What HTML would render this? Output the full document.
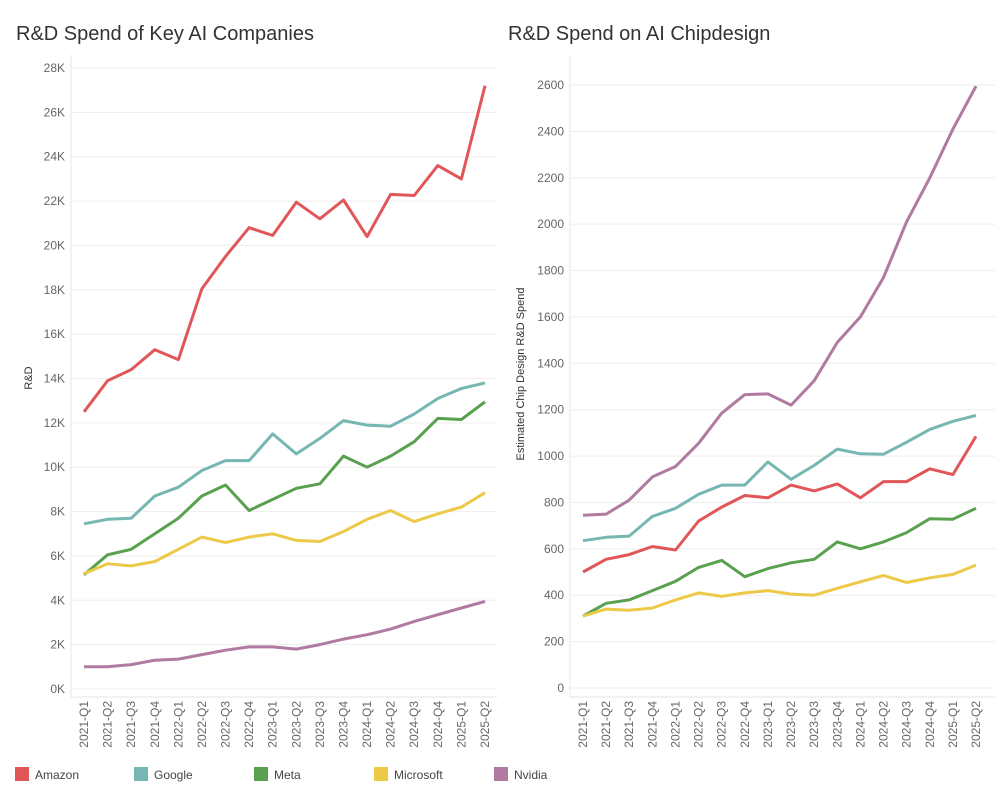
<!DOCTYPE html>
<html><head><meta charset="utf-8"><style>
body{margin:0;background:#fff;font-family:"Liberation Sans",sans-serif;}
svg text{font-family:"Liberation Sans",sans-serif;}
</style></head><body>
<svg id="c" width="1000" height="800">
<text x="16" y="40" font-size="20" fill="#333">R&amp;D Spend of Key AI Companies</text>
<text x="508" y="40" font-size="20" fill="#333">R&amp;D Spend on AI Chipdesign</text>
<text transform="translate(32,378) rotate(-90)" text-anchor="middle" font-size="11" fill="#333">R&amp;D</text>
<text transform="translate(524,374) rotate(-90)" text-anchor="middle" font-size="11" fill="#333">Estimated Chip Design R&amp;D Spend</text>
</svg>
<script>
const quarters=["2021-Q1","2021-Q2","2021-Q3","2021-Q4","2022-Q1","2022-Q2","2022-Q3","2022-Q4","2023-Q1","2023-Q2","2023-Q3","2023-Q4","2024-Q1","2024-Q2","2024-Q3","2024-Q4","2025-Q1","2025-Q2"];
const companies=["Amazon","Google","Meta","Microsoft","Nvidia"];
const colors=["#e15759","#76b7b2","#59a14f","#edc948","#b07aa1"];
const rdAmazon=[12.5,13.9,14.4,15.3,14.85,18.05,19.5,20.8,20.45,21.95,21.2,22.05,20.4,22.3,22.25,23.6,23.0,27.2];
const rdGoogle=[7.45,7.65,7.7,8.7,9.1,9.85,10.3,10.3,11.5,10.6,11.3,12.1,11.9,11.85,12.4,13.1,13.55,13.8];
const rdMeta=[5.15,6.05,6.3,7.0,7.7,8.7,9.2,8.05,8.55,9.05,9.25,10.5,10.0,10.5,11.15,12.2,12.15,12.95];
const rdMicrosoft=[5.2,5.65,5.55,5.75,6.3,6.85,6.6,6.85,7.0,6.7,6.65,7.1,7.65,8.05,7.55,7.9,8.2,8.85];
const rdNvidia=[1.0,1.0,1.1,1.3,1.35,1.55,1.75,1.9,1.9,1.8,2.0,2.25,2.45,2.7,3.05,3.35,3.65,3.95];
const chipAmazon=[500,555,575,610,595,720,780,830,820,875,850,880,820,890,890,945,920,1085];
const chipGoogle=[635,650,655,740,775,835,875,875,975,900,960,1030,1010,1008,1060,1115,1150,1175];
const chipMeta=[310,365,380,420,460,520,550,480,515,540,555,630,600,630,670,730,728,775];
const chipMicrosoft=[310,340,335,345,380,410,395,410,420,405,400,430,458,485,455,475,490,530];
const chipNvidia=[745,750,810,910,955,1055,1185,1265,1268,1220,1325,1490,1600,1770,2010,2200,2410,2595];
const leftTicks=[0,2,4,6,8,10,12,14,16,18,20,22,24,26,28];
const rightTicks=[0,200,400,600,800,1000,1200,1400,1600,1800,2000,2200,2400,2600];

const NS="http://www.w3.org/2000/svg";
const svg=document.getElementById('c');
function mk(t,a,p){const e=document.createElementNS(NS,t);for(const k in a)e.setAttribute(k,a[k]);(p||svg).appendChild(e);return e;}

function chart(prefix,ax,axEnd,x0,x1,y0,yTop,maxV,ticks,fmt,series){
  const g=mk('g',{});
  
  
  const X=i=>x0+(x1-x0)*i/(quarters.length-1);
  const Y=v=>y0-(y0-yTop)*v/maxV;
  ticks.forEach(t=>{
    const l=mk('line',{x1:ax,x2:axEnd,y1:Y(t),y2:Y(t),stroke:'#eeeeee','stroke-width':1},g);
    
    
    const tx=mk('text',{x:ax-6,y:Y(t)+4,'text-anchor':'end','font-size':12,fill:'#666'},g);
    
    
    tx.textContent=fmt(t);
  });
  const a=mk('line',{x1:ax,x2:ax,y1:55,y2:697,stroke:'#e6e6e6'},g);
  
  
  const b=mk('line',{x1:ax,x2:axEnd,y1:697,y2:697,stroke:'#e6e6e6'},g);
  
  
  quarters.forEach((q,i)=>{
    const tx=mk('text',{transform:`translate(${X(i)+4},701) rotate(-90)`,'text-anchor':'end','font-size':12,fill:'#666'},g);
    
    
    tx.textContent=q;
  });
  series.forEach((s,k)=>{
    const d=s.map((v,i)=>(i?'L':'M')+X(i).toFixed(1)+','+Y(v).toFixed(1)).join('');
    const p=mk('path',{d:d,fill:'none',stroke:colors[k],'stroke-width':3,'stroke-linejoin':'round'},g);
    
    
  });
}
chart('left',71,497,84,485,689,68,28,leftTicks,t=>t+'K',[rdAmazon,rdGoogle,rdMeta,rdMicrosoft,rdNvidia]);
chart('right',570,995,583,976,688,85,2600,rightTicks,t=>String(t),[chipAmazon,chipGoogle,chipMeta,chipMicrosoft,chipNvidia]);

const legX=[15,134,254,374,494];
companies.forEach((c,k)=>{
  const g=mk('g',{});
  
  
  mk('rect',{x:legX[k],y:767,width:14,height:14,fill:colors[k]},g);
  const t=mk('text',{x:legX[k]+20,y:779,'font-size':12,fill:'#444'},g);
  t.textContent=c;
});
</script>
</body></html>
